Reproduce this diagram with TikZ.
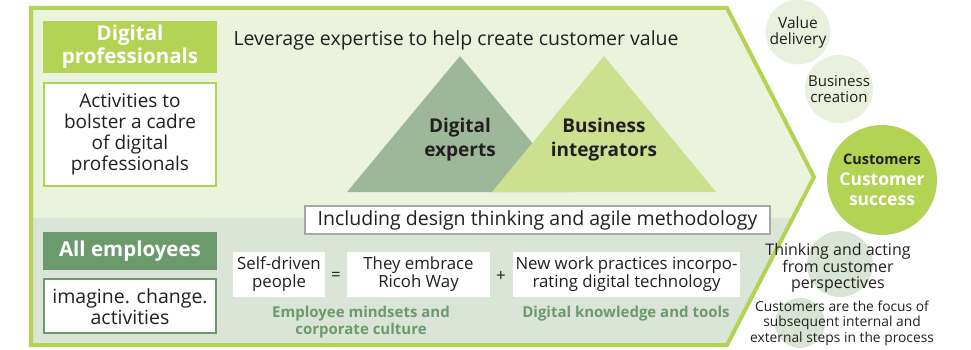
\documentclass[tikz,border=0pt]{standalone}
\usepackage{fontspec}
\setmainfont{Open Sans}
\usepackage{tikz}
\definecolor{myframegreen}{RGB}{179,211,84}
\definecolor{myupper}{RGB}{235,243,220}
\definecolor{mylower}{RGB}{218,228,215}
\definecolor{mydarkgreen}{RGB}{107,154,109}
\definecolor{mysage}{RGB}{157,184,152}
\definecolor{mylime}{RGB}{205,224,143}
\definecolor{mypale}{RGB}{233,241,220}
\definecolor{mygray}{RGB}{217,227,214}
\definecolor{myboxgray}{RGB}{168,168,168}
\definecolor{mytext}{RGB}{35,31,32}
\usetikzlibrary{positioning}

\begin{document}
\begin{tikzpicture}[
  x=1pt,y=-1pt,
  text=mytext,
  headbox/.style={
    fill=#1,
    text=white,
    minimum width=174pt,
    inner sep=0pt,
    align=center
    },
  framebox/.style={
    draw=#1,
    line width=2pt,
    fill=white,
    minimum width=172pt,
    inner sep=0pt,
    align=center
    },
  wordbox/.style={
    fill=white,
    inner sep=0pt,
    minimum height=45pt,
    align=center,
    font=\fontsize{16.8}{18}\selectfont
    },
  greenlabel/.style={
    text=mydarkgreen,
    align=center,
    font=\bfseries\fontsize{15}{17}\selectfont
    },
  bubble/.style={
    circle,
    fill=#1,
    inner sep=0pt,
    align=center
    }
]
\useasboundingbox (0,0) rectangle (971,350);

% arrow-shaped frame
\fill[myupper] (31,8) -- (727,8) -- (814,177) -- (727,345) -- (31,345) -- cycle;
\begin{scope}
  \clip (31,8) -- (727,8) -- (814,177) -- (727,345) -- (31,345) -- cycle;
  \fill[mylower] (0,218) rectangle (900,350);
\end{scope}
\draw[myframegreen, line width=4pt, line join=miter] (31,8) -- (727,8) -- (814,177) -- (727,345) -- (31,345) -- cycle;

% left column
\node[headbox=myframegreen, minimum height=52pt, font=\bfseries\fontsize{20.5}{23}\selectfont]
  (digipro) at (130,47) {Digital\\professionals};
\node[framebox=myframegreen, minimum height=103pt, font=\fontsize{19}{21}\selectfont, below=9pt of digipro]
  (activities) {Activities to\\bolster a cadre\\of digital\\professionals};
\node[headbox=mydarkgreen, minimum height=38pt, font=\bfseries\fontsize{20.5}{22}\selectfont]
  (allemp) at (130,251) {All employees};
\node[framebox=mydarkgreen, minimum height=54pt, font=\fontsize{19.5}{21}\selectfont, below=8pt of allemp]
  (imagine) {imagine. change.\\activities};

% upper part
\node[anchor=west, font=\fontsize{19.5}{22}\selectfont] (leverage) at (230,40)
  {Leverage expertise to help create customer value};

\fill[mysage] (460,56) -- (347,192) -- (573,192) -- cycle;
\fill[mylime] (604,56) -- (492,192) -- (716,192) -- cycle;
\node[align=center, font=\bfseries\fontsize{19}{24}\selectfont] (experts) at (460,140) {Digital\\experts};
\node[align=center, font=\bfseries\fontsize{19}{24}\selectfont] (integrators) at (604,140) {Business\\integrators};

\node[draw=myboxgray, line width=2pt, fill=white, minimum width=465pt, minimum height=28pt,
  inner sep=0pt, font=\fontsize{19.5}{22}\selectfont]
  (design) at (537.5,220) {Including design thinking and agile methodology};

% lower part
\node[wordbox, minimum width=92pt] (selfdriven) at (279,274.5) {Self-driven\\people};
\node[wordbox, minimum width=143pt] (ricoh) at (418.5,274.5) {They embrace\\Ricoh Way};
\node[wordbox, minimum width=227pt] (newwork) at (626.5,274.5) {New work practices incorpo-\\rating digital technology};
\node[font=\fontsize{16.8}{18}\selectfont] (equals) at (336,276) {=};
\node[font=\fontsize{16.8}{18}\selectfont] (plus) at (501,276) {+};

\node[greenlabel] (mindsets) at (361,322) {Employee mindsets and\\corporate culture};
\node[greenlabel] (knowledge) at (626,314) {Digital knowledge and tools};

% circles on the right
\node[bubble=mypale, minimum size=52pt, font=\fontsize{15.5}{16}\selectfont]
  (value) at (798,32) {Value\\delivery};
\node[bubble=mypale, minimum size=68pt, font=\fontsize{15}{16}\selectfont]
  (creation) at (839,89) {Business\\creation};
\node[bubble=myframegreen, minimum size=110pt, font=\bfseries\fontsize{17.5}{20.5}\selectfont]
  (customers) at (882,180)
  {{\fontsize{14.5}{18}\selectfont Customers}\\
   {\color{white}Customer}\\
   {\color{white}success}};
\node[bubble=mygray, minimum size=66pt] (thinkcircle) at (840,264) {};
\node[bubble=mygray, minimum size=50pt] (focuscircle) at (800,323) {};
\node[align=center, font=\fontsize{16}{15.5}\selectfont] (thinking) at (838,268)
  {Thinking and acting\\from customer\\perspectives};
\node[align=center, font=\fontsize{13.8}{15.5}\selectfont] (focus) at (842,323)
  {Customers are the focus of\\subsequent internal and\\external steps in the process};
\end{tikzpicture}
\end{document}
